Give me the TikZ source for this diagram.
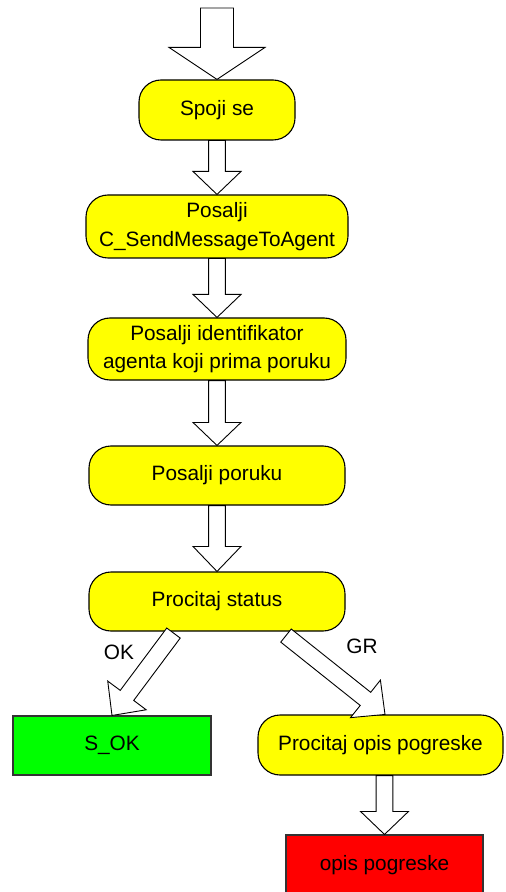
\documentclass[tikz,border=0pt]{standalone}
\usepackage{fontspec}
\setmainfont{Liberation Sans}
\usetikzlibrary{calc}

\definecolor{stepyellow}{RGB}{255,255,0}
\definecolor{okgreen}{RGB}{0,255,0}
\definecolor{errred}{RGB}{255,0,0}

\tikzset{
  boxtext/.style={font=\fontsize{10.4pt}{14.2pt}\selectfont, align=center, inner sep=0pt},
  stepbox/.style={boxtext, draw=black, line width=0.55pt, rounded corners=11pt, fill=stepyellow},
  endbox/.style={boxtext, draw=black!80, line width=0.55pt},
  fatarrow/.style={draw=black, fill=white, line width=0.45pt, line join=miter},
  lbl/.style={font=\fontsize{10.4pt}{12pt}\selectfont, inner sep=0pt}
}

% Block arrow from #1 to #2: shaft half width #3, head half width #4, head length #5
\newcommand\blockarrow[5]{%
  \coordinate (ba-h) at ($(#2)!#5!(#1)$);
  \draw[fatarrow] ($(#1)!#3!90:(#2)$) -- ($(ba-h)!#3!90:(#2)$) -- ($(ba-h)!#4!90:(#2)$)
    -- (#2) -- ($(ba-h)!#4!-90:(#2)$) -- ($(ba-h)!#3!-90:(#2)$) -- ($(#1)!#3!-90:(#2)$) -- cycle;
}

\begin{document}
\begin{tikzpicture}[x=0.5pt, y=-0.5pt]
  \useasboundingbox (0,0) rectangle (505,892);

  % flow steps
  \node[stepbox, minimum width=78pt, minimum height=30pt] (connect) at (217,110) {Spoji se};
  \node[stepbox, minimum width=131pt, minimum height=31.5pt] (sendcmd) at (217,226.5) {Posalji\\C\_SendMessageToAgent};
  \node[stepbox, minimum width=129pt, minimum height=31pt] (sendid) at (217,349) {Posalji identifikator\\agenta koji prima poruku};
  \node[stepbox, minimum width=128pt, minimum height=29.5pt] (sendmsg) at (217,475.5) {Posalji poruku};
  \node[stepbox, minimum width=128pt, minimum height=29.5pt] (status) at (217,601.5) {Procitaj status};

  % outcomes
  \node[endbox, fill=okgreen, minimum width=99pt, minimum height=29.5pt] (ok) at (112,745.5) {S\_OK};
  \node[stepbox, minimum width=122.5pt, minimum height=30pt] (readerr) at (380.5,745) {Procitaj opis pogreske};
  \node[endbox, fill=errred, minimum width=98.5pt, minimum height=30pt] (errdesc) at (384.5,865) {opis pogreske};

  % connector end points
  \coordinate (entry) at (217,8);
  \coordinate (okfrom) at ($(status.south)+(-43.5,1.5)$);
  \coordinate (grfrom) at ($(status.south)+(69,4)$);
  \coordinate (grto) at ($(readerr.north)+(4.5,0)$);
  \coordinate (errfrom) at (readerr.south -| errdesc.north);

  % block arrows
  \blockarrow{entry}{connect.north}{8.25pt}{24pt}{16pt}
  \blockarrow{connect.south}{sendcmd.north}{4.2pt}{12pt}{11.5pt}
  \blockarrow{sendcmd.south}{sendid.north}{4.2pt}{12pt}{11.5pt}
  \blockarrow{sendid.south}{sendmsg.north}{4.2pt}{12pt}{11.5pt}
  \blockarrow{sendmsg.south}{status.north}{4.2pt}{12pt}{12.5pt}
  \blockarrow{okfrom}{ok.north}{4.2pt}{12pt}{12.5pt}
  \blockarrow{grfrom}{grto}{4.2pt}{12pt}{12.5pt}
  \blockarrow{errfrom}{errdesc.north}{4.2pt}{12pt}{11.5pt}

  % branch labels
  \node[lbl] (oklbl) at (119,652) {OK};
  \node[lbl] (grlbl) at (362,646) {GR};
\end{tikzpicture}
\end{document}
